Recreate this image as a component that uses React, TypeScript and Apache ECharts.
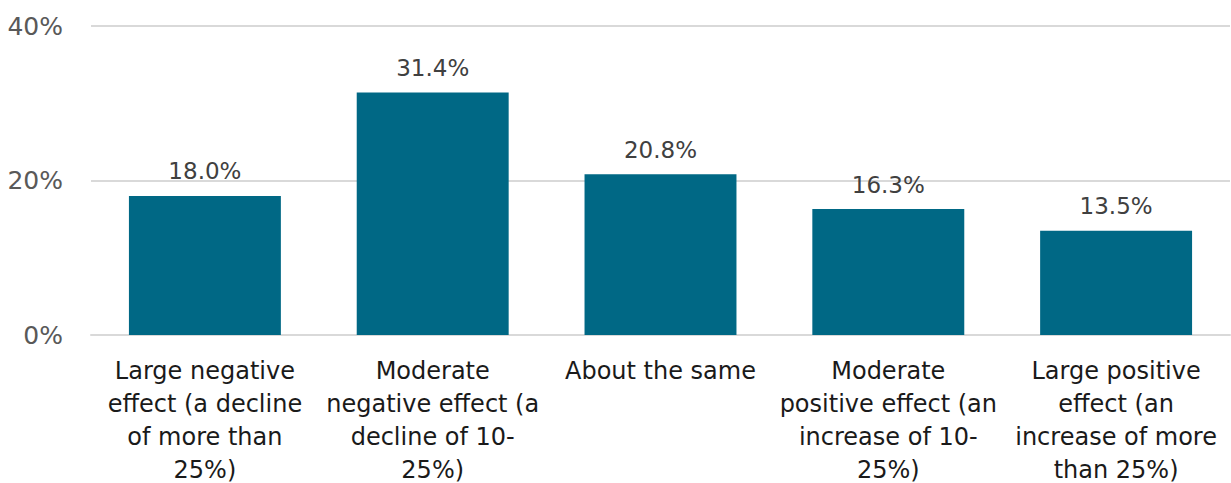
import React, { useEffect, useRef } from "react";
import * as echarts from "echarts";

const categories = [
  "Large negative\neffect (a decline\nof more than\n25%)",
  "Moderate\nnegative effect (a\ndecline of 10-\n25%)",
  "About the same",
  "Moderate\npositive effect (an\nincrease of 10-\n25%)",
  "Large positive\neffect (an\nincrease of more\nthan 25%)",
];
const values = [18.0, 31.4, 20.8, 16.3, 13.5];
const yTicks = [0, 20, 40];

const FONT = "'DejaVu Sans', sans-serif";

export default function App() {
  const ref = useRef<HTMLDivElement>(null);
  useEffect(() => {
    if (!ref.current) return;
    const chart = echarts.init(ref.current, null, { renderer: "svg" });
    chart.setOption({
      animation: false,
      grid: {
        left: 91,
        right: 1,
        top: 26,
        bottom: 148,
        containLabel: false,
        outerBoundsMode: "none",
      },
      xAxis: {
        type: "category",
        data: categories,
        axisLine: { show: true, lineStyle: { color: "#d9d9d9", width: 2 } },
        axisTick: { show: false },
        axisLabel: {
          interval: 0,
          color: "#1a1a1a",
          fontFamily: FONT,
          fontSize: 24,
          lineHeight: 33,
          margin: 19,
        },
      },
      yAxis: {
        type: "value",
        min: yTicks[0],
        max: yTicks[yTicks.length - 1],
        interval: 20,
        axisLine: { show: false },
        axisTick: { show: false },
        splitLine: { lineStyle: { color: "#d9d9d9", width: 2 } },
        axisLabel: {
          color: "#595959",
          fontFamily: FONT,
          fontSize: 25,
          margin: 28,
          formatter: (v: number) => `${v}%`,
        },
      },
      series: [
        {
          type: "bar",
          data: values,
          barWidth: "66.7%",
          itemStyle: { color: "#006885" },
          label: {
            show: true,
            position: "top",
            distance: 13,
            color: "#404040",
            fontFamily: FONT,
            fontSize: 23,
            formatter: (p: any) => `${p.value.toFixed(1)}%`,
          },
        },
      ],
    });
    return () => chart.dispose();
  }, []);
  return (
    <div
      ref={ref}
      style={{ position: "absolute", left: 0, top: 0, width: 1231, height: 483 }}
    />
  );
}
